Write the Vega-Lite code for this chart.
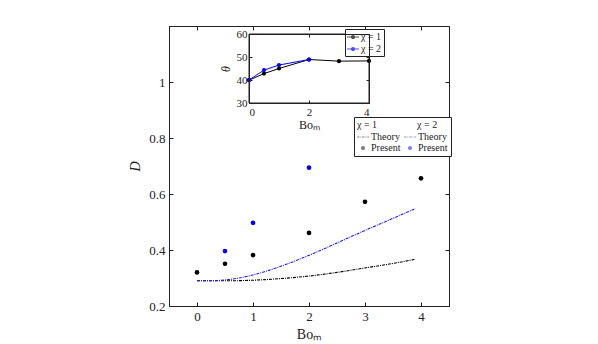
{
  "$schema": "https://vega.github.io/schema/vega-lite/v6.json",
  "width": 280,
  "height": 280,
  "autosize": {"type": "none"},
  "padding": {"left": 169, "top": 26, "right": 149, "bottom": 38},
  "background": "white",
  "datasets": {
    "theory": [
      {"Bo": 0, "D": 0.290, "chi": "1"}, {"Bo": 0.5, "D": 0.290, "chi": "1"}, {"Bo": 1, "D": 0.292, "chi": "1"},
      {"Bo": 1.5, "D": 0.298, "chi": "1"}, {"Bo": 2, "D": 0.307, "chi": "1"}, {"Bo": 2.5, "D": 0.320, "chi": "1"},
      {"Bo": 3, "D": 0.336, "chi": "1"}, {"Bo": 3.5, "D": 0.352, "chi": "1"}, {"Bo": 3.9, "D": 0.367, "chi": "1"},
      {"Bo": 0, "D": 0.290, "chi": "2"}, {"Bo": 0.25, "D": 0.290, "chi": "2"}, {"Bo": 0.5, "D": 0.293, "chi": "2"},
      {"Bo": 0.75, "D": 0.300, "chi": "2"}, {"Bo": 1, "D": 0.311, "chi": "2"}, {"Bo": 1.5, "D": 0.342, "chi": "2"},
      {"Bo": 2, "D": 0.381, "chi": "2"}, {"Bo": 2.5, "D": 0.425, "chi": "2"}, {"Bo": 3, "D": 0.470, "chi": "2"},
      {"Bo": 3.5, "D": 0.513, "chi": "2"}, {"Bo": 3.9, "D": 0.548, "chi": "2"}
    ],
    "present": [
      {"Bo": 0, "D": 0.320, "chi": "1"}, {"Bo": 0.5, "D": 0.351, "chi": "1"}, {"Bo": 1, "D": 0.382, "chi": "1"},
      {"Bo": 2, "D": 0.461, "chi": "1"}, {"Bo": 3, "D": 0.572, "chi": "1"}, {"Bo": 4, "D": 0.656, "chi": "1"},
      {"Bo": 0.5, "D": 0.396, "chi": "2"}, {"Bo": 1, "D": 0.497, "chi": "2"}, {"Bo": 2, "D": 0.694, "chi": "2"}
    ],
    "inset": [
      {"Bo": 0, "theta": 39.9, "chi": "1"}, {"Bo": 0.5, "theta": 42.8, "chi": "1"}, {"Bo": 1, "theta": 45.0, "chi": "1"},
      {"Bo": 2, "theta": 48.9, "chi": "1"}, {"Bo": 3, "theta": 48.2, "chi": "1"}, {"Bo": 4, "theta": 48.3, "chi": "1"},
      {"Bo": 0, "theta": 40.0, "chi": "2"}, {"Bo": 0.5, "theta": 44.3, "chi": "2"}, {"Bo": 1, "theta": 46.5, "chi": "2"},
      {"Bo": 2, "theta": 48.9, "chi": "2"}
    ],
    "frame": [{"x0": 0, "x1": 4, "y0": 30, "y1": 60}],
    "legmain": [{"key": "T1"}, {"key": "P1"}, {"key": "T2"}, {"key": "P2"}],
    "leginset": [{"c": "χ = 1"}, {"c": "χ = 2"}]
  },
  "resolve": {
    "scale": {"x": "independent", "y": "independent", "color": "independent", "fill": "independent", "shape": "independent"},
    "axis": {"x": "independent", "y": "independent"},
    "legend": {"fill": "independent", "shape": "independent", "color": "independent"}
  },
  "layer": [
    {
      "data": {"name": "theory"},
      "mark": {"type": "line", "strokeWidth": 1.1, "strokeDash": [3, 1, 1, 1], "interpolate": "monotone"},
      "encoding": {
        "x": {"field": "Bo", "type": "quantitative", "scale": {"domain": [-0.5, 4.5], "nice": false, "zero": false},
              "axis": {"orient": "top", "labels": false, "title": null, "tickSize": -4, "values": [0, 1, 2, 3, 4]}},
        "y": {"field": "D", "type": "quantitative", "scale": {"domain": [0.2, 1.2], "nice": false, "zero": false},
              "axis": {"orient": "right", "labels": false, "title": null, "tickSize": -4, "values": [0.2, 0.4, 0.6, 0.8, 1]}},
        "color": {"field": "chi", "type": "nominal", "scale": {"domain": ["1", "2"], "range": ["#000000", "#1a1aff"]}, "legend": null}
      }
    },
    {
      "data": {"name": "present"},
      "mark": {"type": "point", "filled": true, "size": 22, "opacity": 1},
      "encoding": {
        "x": {"field": "Bo", "type": "quantitative", "scale": {"domain": [-0.5, 4.5], "nice": false, "zero": false},
              "axis": {"orient": "bottom", "title": "Boₘ", "tickSize": -4, "values": [0, 1, 2, 3, 4], "labelPadding": 8, "titlePadding": 4}},
        "y": {"field": "D", "type": "quantitative", "scale": {"domain": [0.2, 1.2], "nice": false, "zero": false},
              "axis": {"orient": "left", "title": "D", "titleFontStyle": "italic", "tickSize": -4, "values": [0.2, 0.4, 0.6, 0.8, 1], "format": "~g", "labelPadding": 8, "titlePadding": 6}},
        "color": {"field": "chi", "type": "nominal", "scale": {"domain": ["1", "2"], "range": ["#000000", "#0000ff"]}, "legend": null}
      }
    },
    {
      "data": {"name": "legmain"},
      "transform": [{"filter": "false"}],
      "mark": {"type": "point", "filled": true, "strokeWidth": 0},
      "encoding": {
        "fill": {"field": "key", "type": "nominal",
                 "scale": {"domain": ["T1", "P1", "T2", "P2"], "range": ["#000000", "#000000", "#1a1aff", "#0000ff"]},
                 "legend": {"orient": "none", "legendX": 185, "legendY": 91, "columns": 2,
                            "title": "\u00a0\u00a0χ = 1\u00a0\u00a0\u00a0\u00a0\u00a0\u00a0\u00a0\u00a0\u00a0\u00a0\u00a0\u00a0\u00a0\u00a0\u00a0\u00a0χ = 2",
                            "titleFont": "Liberation Serif", "labelFont": "Liberation Serif",
                            "titleFontSize": 10, "titleFontWeight": "normal", "titlePadding": 1, "labelFontSize": 10,
                            "symbolSize": 144, "symbolStrokeWidth": 0, "labelOffset": 2, "columnPadding": 3, "rowPadding": 0,
                            "labelExpr": "datum.label[0] == 'T' ? 'Theory' : 'Present'",
                            "strokeColor": "#222", "fillColor": "white", "padding": 3}},
        "shape": {"field": "key", "type": "nominal",
                  "scale": {"domain": ["T1", "P1", "T2", "P2"],
                            "range": ["M-1,-0.09H-0.6V0.09H-1Z M-0.45,-0.09H-0.3V0.09H-0.45Z M-0.15,-0.09H0.25V0.09H-0.15Z M0.4,-0.09H0.55V0.09H0.4Z M0.7,-0.09H1V0.09H0.7Z",
                                      "M-0.35,0A0.35,0.35 0 1,1 0.35,0A0.35,0.35 0 1,1 -0.35,0Z",
                                      "M-1,-0.09H-0.6V0.09H-1Z M-0.45,-0.09H-0.3V0.09H-0.45Z M-0.15,-0.09H0.25V0.09H-0.15Z M0.4,-0.09H0.55V0.09H0.4Z M0.7,-0.09H1V0.09H0.7Z",
                                      "M-0.35,0A0.35,0.35 0 1,1 0.35,0A0.35,0.35 0 1,1 -0.35,0Z"]},
                  "legend": {"orient": "none", "legendX": 185, "legendY": 91, "columns": 2,
                            "title": "\u00a0\u00a0χ = 1\u00a0\u00a0\u00a0\u00a0\u00a0\u00a0\u00a0\u00a0\u00a0\u00a0\u00a0\u00a0\u00a0\u00a0\u00a0\u00a0χ = 2",
                            "titleFont": "Liberation Serif", "labelFont": "Liberation Serif",
                            "titleFontSize": 10, "titleFontWeight": "normal", "titlePadding": 1, "labelFontSize": 10,
                            "symbolSize": 144, "symbolStrokeWidth": 0, "labelOffset": 2, "columnPadding": 3, "rowPadding": 0,
                            "labelExpr": "datum.label[0] == 'T' ? 'Theory' : 'Present'",
                            "strokeColor": "#222", "fillColor": "white", "padding": 3}}
      }
    },
    {
      "data": {"name": "frame"},
      "mark": {"type": "rect", "fill": "white", "stroke": "#222", "strokeWidth": 1},
      "encoding": {
        "x": {"field": "x0", "type": "quantitative", "scale": {"domain": [0, 4], "range": [80, 200], "nice": false, "zero": false},
              "axis": {"orient": "top", "offset": -8, "labels": false, "title": null, "tickSize": -3, "values": [0, 2, 4], "zindex": 1}},
        "x2": {"field": "x1"},
        "y": {"field": "y0", "type": "quantitative", "scale": {"domain": [30, 60], "range": [77, 8], "nice": false, "zero": false},
              "axis": {"orient": "right", "offset": -80, "labels": false, "title": null, "tickSize": -3, "values": [30, 40, 50, 60], "zindex": 1}},
        "y2": {"field": "y1"}
      }
    },
    {
      "data": {"name": "inset"},
      "mark": {"type": "line", "strokeWidth": 1, "point": {"filled": true, "size": 18}},
      "encoding": {
        "x": {"field": "Bo", "type": "quantitative", "scale": {"domain": [0, 4], "range": [80, 200], "nice": false, "zero": false},
              "axis": {"orient": "bottom", "offset": -203, "title": "Boₘ", "tickSize": -3, "values": [0, 2, 4], "zindex": 1,
                       "labelFontSize": 11, "titleFontSize": 12, "labelPadding": 6, "titlePadding": 2}},
        "y": {"field": "theta", "type": "quantitative", "scale": {"domain": [30, 60], "range": [77, 8], "nice": false, "zero": false},
              "axis": {"orient": "left", "offset": -80, "title": "θ", "titleFontStyle": "italic", "tickSize": -3, "values": [30, 40, 50, 60], "zindex": 1,
                       "labelFontSize": 11, "titleFontSize": 12, "labelPadding": 5, "titlePadding": 4}},
        "color": {"field": "chi", "type": "nominal", "scale": {"domain": ["1", "2"], "range": ["#000000", "#0000ff"]}, "legend": null}
      }
    },
    {
      "data": {"name": "leginset"},
      "transform": [{"filter": "false"}],
      "mark": {"type": "point", "filled": true, "strokeWidth": 0},
      "encoding": {
        "fill": {"field": "c", "type": "nominal", "scale": {"domain": ["χ = 1", "χ = 2"], "range": ["#000000", "#0000ff"]},
                 "legend": {"orient": "none", "legendX": 176, "legendY": 3, "title": null,
                            "labelFont": "Liberation Serif",
                            "symbolType": "M-1,-0.09H1V0.09H-1Z M-0.35,0A0.35,0.35 0 1,1 0.35,0A0.35,0.35 0 1,1 -0.35,0Z",
                            "symbolSize": 144, "symbolStrokeWidth": 0, "labelFontSize": 10, "labelOffset": 2, "rowPadding": 1,
                            "strokeColor": "#222", "fillColor": "white", "padding": 2}}
      }
    }
  ],
  "config": {
    "font": "Liberation Serif",
    "view": {"stroke": "#222", "strokeWidth": 1},
    "axis": {"grid": false, "domainColor": "#222", "tickColor": "#222", "labelColor": "#222", "titleColor": "#222",
             "labelFont": "Liberation Serif", "titleFont": "Liberation Serif", "titleFontWeight": "normal",
             "labelFontSize": 13, "titleFontSize": 14, "labelAngle": 0},
    "legend": {"labelFont": "Liberation Serif", "titleFont": "Liberation Serif", "labelColor": "#222", "titleColor": "#222"}
  }
}
